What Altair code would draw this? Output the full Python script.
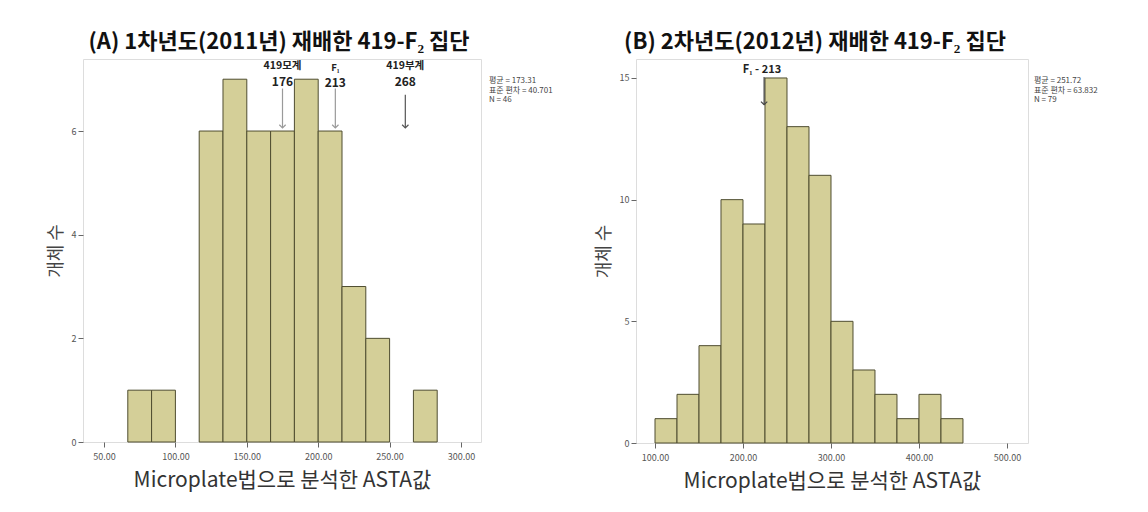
import altair as alt
import pandas as pd

FONT = "Noto Sans CJK KR"

# ---------------- Panel A data ----------------
a_title = "(A) 1차년도(2011년) 재배한 419-F₂ 집단"
a_bin_left = [66.67, 83.33, 116.67, 133.33, 150.0, 166.67, 183.33, 200.0, 216.67, 233.33, 266.67]
a_bin_right = [83.33, 100.0, 133.33, 150.0, 166.67, 183.33, 200.0, 216.67, 233.33, 250.0, 283.33]
a_counts = [1, 1, 6, 7, 6, 6, 7, 6, 3, 2, 1]
a_x_ticks = [50, 100, 150, 200, 250, 300]
a_y_ticks = [0, 2, 4, 6]
a_stats = ["평균 = 173.31", "표준 편차 = 40.701", "N = 46"]
a_ann_text = ["419모계", "176", "F₁", "213", "419부계", "268"]
a_ann_x = [175, 175, 212, 212, 261, 261]
a_ann_y = [7.25, 6.95, 7.21, 6.93, 7.25, 6.95]
a_ann_size = [10.5, 12, 9.5, 12, 10.5, 12]
a_arrow_x = [175, 212, 261]
a_arrow_top = [6.82, 6.82, 6.70]
a_arrow_tip = [6.06, 6.06, 6.06]
a_arrow_color = ["#9a9a9a", "#9a9a9a", "#555555"]

# ---------------- Panel B data ----------------
b_title = "(B) 2차년도(2012년) 재배한 419-F₂ 집단"
b_bin_left = [100, 125, 150, 175, 200, 225, 250, 275, 300, 325, 350, 375, 400, 425]
b_bin_right = [125, 150, 175, 200, 225, 250, 275, 300, 325, 350, 375, 400, 425, 450]
b_counts = [1, 2, 4, 10, 9, 15, 13, 11, 5, 3, 2, 1, 2, 1]
b_x_ticks = [100, 200, 300, 400, 500]
b_y_ticks = [0, 5, 10, 15]
b_stats = ["평균 = 251.72", "표준 편차 = 63.832", "N = 79"]
b_ann_text = ["F₁ - 213"]
b_ann_x = [221.6]
b_ann_y = [15.33]
b_ann_size = [11]
b_arrow_x = [224]
b_arrow_top = [15.04]
b_arrow_tip = [13.9]
b_arrow_color = ["#444444"]

X_TITLE = "Microplate법으로 분석한 ASTA값"
Y_TITLE = "개체 수"
BAR_FILL = "#d4cf98"
BAR_STROKE = "#4f4d30"


def panel(title, left, right, counts, xdom, ydom, xticks, yticks, stats,
          ann_text, ann_x, ann_y, ann_size, arr_x, arr_top, arr_tip, arr_col,
          width, height, stats_dx, title_dx):
    bars_df = pd.DataFrame({"x0": left, "x1": right, "count": counts,
                            "base": [0] * len(counts)})
    xs = alt.Scale(domain=xdom, nice=False, zero=False)
    ys = alt.Scale(domain=ydom, nice=False, zero=False)
    xaxis = alt.Axis(values=xticks, format=".2f", title=X_TITLE, grid=False,
                     labelFontSize=9, labelColor="#555555", tickColor="#666666",
                     tickSize=5, labelPadding=5, domain=False,
                     titleFontSize=21, titleFontWeight="normal", titleColor="#333333",
                     titlePadding=8, labelFont=FONT, titleFont=FONT)
    yaxis = alt.Axis(values=yticks, format="d", title=Y_TITLE, grid=False,
                     labelFontSize=9, labelColor="#555555", tickColor="#666666",
                     tickSize=5, labelPadding=2, domain=False,
                     titleFontSize=18, titleFontWeight="normal", titleColor="#444444",
                     titlePadding=6, labelFont=FONT, titleFont=FONT)
    bars = alt.Chart(bars_df).mark_rect(fill=BAR_FILL, stroke=BAR_STROKE,
                                        strokeWidth=1).encode(
        x=alt.X("x0:Q", scale=xs, axis=xaxis),
        x2="x1:Q",
        y=alt.Y("count:Q", scale=ys, axis=yaxis),
        y2="base:Q",
    )
    ann_df = pd.DataFrame({"x0": ann_x, "count": ann_y, "t": ann_text, "s": ann_size})
    ann = alt.Chart(ann_df).mark_text(font=FONT, fontWeight="bold",
                                      color="#222222", baseline="middle",
                                      align="center").encode(
        x=alt.X("x0:Q", scale=xs, axis=xaxis),
        y=alt.Y("count:Q", scale=ys, axis=yaxis),
        text="t:N",
        size=alt.Size("s:Q", scale=None, legend=None),
    )
    arr_df = pd.DataFrame({"x0": arr_x, "count": arr_top, "tip": arr_tip, "c": arr_col})
    shafts = alt.Chart(arr_df).mark_rule(strokeWidth=1.2).encode(
        x=alt.X("x0:Q", scale=xs, axis=xaxis),
        y=alt.Y("count:Q", scale=ys, axis=yaxis),
        y2="tip:Q",
        color=alt.Color("c:N", scale=None, legend=None),
    )
    head_df = pd.DataFrame({"x0": arr_x, "count": arr_tip, "c": arr_col})
    heads = alt.Chart(head_df).mark_point(shape="M-1,-1L0,0L1,-1", filled=False,
                                          size=40, strokeWidth=1.2, opacity=1).encode(
        x=alt.X("x0:Q", scale=xs, axis=xaxis),
        y=alt.Y("count:Q", scale=ys, axis=yaxis),
        color=alt.Color("c:N", scale=None, legend=None),
    )
    st_df = pd.DataFrame({"t": stats, "py": [22, 31.5, 41]})
    st = alt.Chart(st_df).mark_text(font=FONT, fontSize=8, color="#444444",
                                    align="left", baseline="middle").encode(
        x=alt.value(width + stats_dx),
        y=alt.value(0),
        yOffset=alt.YOffset("py:Q", scale=None),
        text="t:N",
    )
    return alt.layer(bars, shafts, heads, ann, st).properties(
        width=width, height=height,
        title=alt.TitleParams(text=title, fontSize=22, fontWeight="bold",
                              font=FONT, color="#111111", anchor="middle",
                              frame="group", offset=5, dx=title_dx),
    )


a = panel(a_title, a_bin_left, a_bin_right, a_counts, [35.3, 314.0], [0, 7.39],
          a_x_ticks, a_y_ticks, a_stats, a_ann_text, a_ann_x, a_ann_y, a_ann_size,
          a_arrow_x, a_arrow_top, a_arrow_tip, a_arrow_color, 398, 383, 8, -3)
b = panel(b_title, b_bin_left, b_bin_right, b_counts, [78.4, 523.9], [0, 15.78],
          b_x_ticks, b_y_ticks, b_stats, b_ann_text, b_ann_x, b_ann_y, b_ann_size,
          b_arrow_x, b_arrow_top, b_arrow_tip, b_arrow_color, 392, 384, 6, -17)

chart = alt.hconcat(a, b, spacing=155, bounds="flush").properties(
    padding={"left": 38, "top": 22, "right": 5, "bottom": 5},
    background="white",
).configure_view(
    stroke="#808080", strokeWidth=2, fill="#efefef"
).configure(font=FONT)

chart.save("out.html", embed_options={"renderer": "svg", "actions": False})
